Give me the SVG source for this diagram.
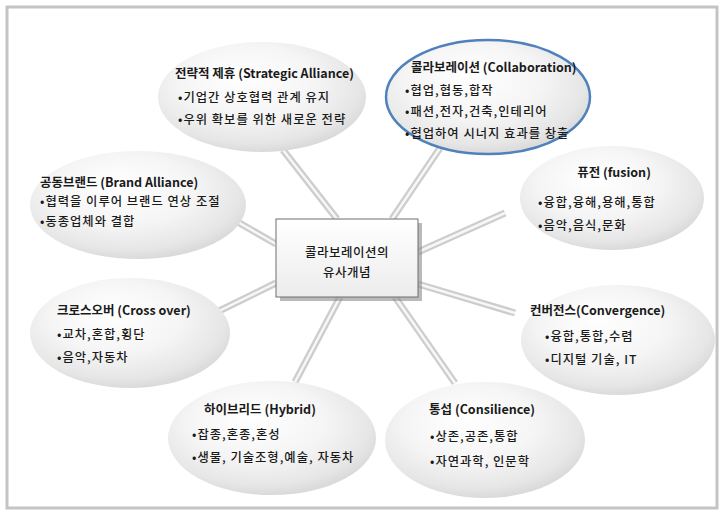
<svg xmlns="http://www.w3.org/2000/svg" width="724" height="515" viewBox="0 0 724 515">
<defs>
<radialGradient id="eg" cx="45%" cy="40%" r="60%" fx="40%" fy="30%">
<stop offset="0%" stop-color="#ffffff"/>
<stop offset="55%" stop-color="#f5f5f5"/>
<stop offset="88%" stop-color="#e6e6e6"/>
<stop offset="100%" stop-color="#dadada"/>
</radialGradient>
<linearGradient id="bg" x1="0" y1="0" x2="0" y2="1">
<stop offset="0%" stop-color="#ffffff"/>
<stop offset="100%" stop-color="#ececec"/>
</linearGradient>
</defs>
<style>
.t{font-family:"Noto Sans CJK KR","Liberation Sans",sans-serif;font-size:12.5px;font-weight:bold;fill:#1a1a1a}
.b{font-family:"Noto Sans CJK KR","Liberation Sans",sans-serif;font-size:12.3px;font-weight:500;fill:#1a1a1a;letter-spacing:1px}
.c{font-family:"Noto Sans CJK KR","Liberation Sans",sans-serif;font-size:12.5px;font-weight:500;fill:#1a1a1a;text-anchor:middle;letter-spacing:0.5px}
.e{fill:url(#eg)}
.lo{stroke:#cdcdcd;stroke-width:7;stroke-linecap:butt}
.li{stroke:#f7f7f7;stroke-width:2.5;stroke-linecap:butt}
</style>
<rect x="0" y="0" width="724" height="515" fill="#ffffff"/>
<rect x="7" y="7" width="710" height="501" fill="#ffffff" stroke="#c4c4c4" stroke-width="3"/>
<g id="connectors">
<line class="lo" x1="283" y1="150" x2="337" y2="219"/><line class="li" x1="283" y1="150" x2="337" y2="219"/>
<line class="lo" x1="440" y1="148" x2="392" y2="219"/><line class="li" x1="440" y1="148" x2="392" y2="219"/>
<line class="lo" x1="222" y1="213" x2="276" y2="244"/><line class="li" x1="222" y1="213" x2="276" y2="244"/>
<line class="lo" x1="505" y1="213" x2="418" y2="252"/><line class="li" x1="505" y1="213" x2="418" y2="252"/>
<line class="lo" x1="276" y1="283" x2="215" y2="313"/><line class="li" x1="276" y1="283" x2="215" y2="313"/>
<line class="lo" x1="418" y1="284" x2="515" y2="313"/><line class="li" x1="418" y1="284" x2="515" y2="313"/>
<line class="lo" x1="340" y1="297" x2="295" y2="382"/><line class="li" x1="340" y1="297" x2="295" y2="382"/>
<line class="lo" x1="395" y1="297" x2="455" y2="383"/><line class="li" x1="395" y1="297" x2="455" y2="383"/>
</g>
<g id="strategic">
<ellipse class="e" cx="262" cy="97" rx="104" ry="55"/>
<text class="t" x="175" y="78">전략적 제휴 (Strategic Alliance)</text>
<text class="b" x="178" y="102">•기업간 상호협력 관계 유지</text>
<text class="b" x="178" y="124">•우위 확보를 위한 새로운 전략</text>
</g>
<g id="collaboration">
<ellipse class="e" cx="488" cy="97" rx="102" ry="57" stroke="#4f81bd" stroke-width="2.5"/>
<text class="t" x="411" y="72">콜라보레이션 (Collaboration)</text>
<text class="b" x="405" y="95">•협업,협동,합작</text>
<text class="b" x="405" y="116">•패션,전자,건축,인테리어</text>
<text class="b" x="405" y="138">•협업하여 시너지 효과를 창출</text>
</g>
<g id="brand">
<ellipse class="e" cx="138" cy="205" rx="108" ry="54"/>
<text class="t" x="40" y="187">공동브랜드 (Brand Alliance)</text>
<text class="b" x="40" y="206">•협력을 이루어 브랜드 연상 조절</text>
<text class="b" x="40" y="226">•동종업체와 결합</text>
</g>
<g id="fusion">
<ellipse class="e" cx="612" cy="198" rx="92" ry="52"/>
<text class="t" x="614" y="177" text-anchor="middle">퓨전 (fusion)</text>
<text class="b" x="538" y="207">•융합,융해,용해,통합</text>
<text class="b" x="538" y="230">•음악,음식,문화</text>
</g>
<g id="crossover">
<ellipse class="e" cx="130" cy="333" rx="100" ry="55"/>
<text class="t" x="57" y="315">크로스오버 (Cross over)</text>
<text class="b" x="57" y="339">•교차,혼합,횡단</text>
<text class="b" x="57" y="362">•음악,자동차</text>
</g>
<g id="convergence">
<ellipse class="e" cx="618" cy="340" rx="97" ry="55"/>
<text class="t" x="530" y="315">컨버전스(Convergence)</text>
<text class="b" x="545" y="341">•융합,통합,수렴</text>
<text class="b" x="545" y="364">•디지털 기술, IT</text>
</g>
<g id="hybrid">
<ellipse class="e" cx="272" cy="438" rx="104" ry="57"/>
<text class="t" x="260" y="414" text-anchor="middle">하이브리드 (Hybrid)</text>
<text class="b" x="192" y="439">•잡종,혼종,혼성</text>
<text class="b" x="192" y="462">•생물, 기술조형,예술, 자동차</text>
</g>
<g id="consilience">
<ellipse class="e" cx="485" cy="440" rx="100" ry="58"/>
<text class="t" x="482" y="414" text-anchor="middle">통섭 (Consilience)</text>
<text class="b" x="430" y="441">•상존,공존,통합</text>
<text class="b" x="430" y="466">•자연과학, 인문학</text>
</g>
<g id="center">
<rect x="280" y="223" width="142" height="78" fill="#8c8c8c" opacity="0.6"/>
<rect x="276" y="219" width="142" height="78" fill="url(#bg)" stroke="#6e6e6e" stroke-width="1"/>
<text class="c" x="347" y="257">콜라보레이션의</text>
<text class="c" x="347" y="277">유사개념</text>
</g>
</svg>
